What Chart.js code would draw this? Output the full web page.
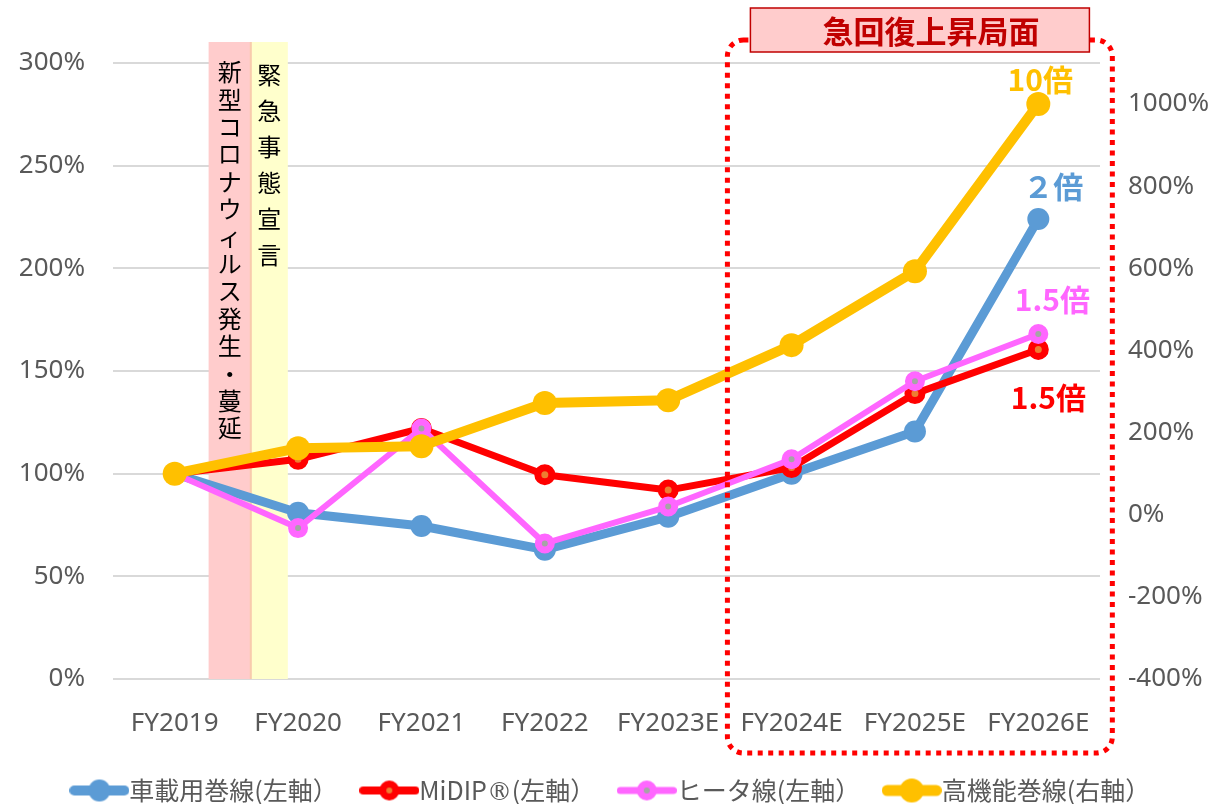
<!DOCTYPE html>
<html>
<head>
<meta charset="utf-8">
<script src="https://cdn.jsdelivr.net/npm/chart.js@4.4.1/dist/chart.umd.min.js"></script>
<style>
  @font-face { font-family: 'RegMark'; src: local('DejaVu Sans'); unicode-range: U+00AE; }
  html, body { margin: 0; background: #fff; }
  #wrap { width: 1216px; height: 804px; position: relative; }
</style>
</head>
<body>
<div id="wrap"><canvas id="chart"></canvas></div>
<script>
// ── データ ──
const fiscalYears = ['FY2019', 'FY2020', 'FY2021', 'FY2022', 'FY2023E', 'FY2024E', 'FY2025E', 'FY2026E'];
const shasaiMakisen = [100, 81, 74.5, 63, 79, 100, 120.5, 224];   // 車載用巻線(左軸)
const midip         = [100, 107, 122, 99.5, 92, 103, 139, 160.5];  // MiDIP®(左軸)
const heaterSen     = [100, 73.5, 122, 66, 84, 107, 145, 168];     // ヒータ線(左軸)
const kokinou       = [100, 162, 167, 272, 279, 413, 593, 1000];   // 高機能巻線(右軸)
const leftTicks  = [0, 300, 50];
const rightTicks = [-400, 1100, 200];

const FONT = "'Noto Sans', 'Noto Sans CJK JP', sans-serif";
const LEG  = "'RegMark', 'Noto Sans CJK JP', sans-serif";
const JP = "'Noto Sans CJK JP', sans-serif";
const GRAY = '#595959';
const C = { blue: '#5B9BD5', red: '#FF0000', pink: '#FF66FF', yellow: '#FFC000' };

// 凡例アイコン（線＋丸）
function legendIcon(color, lw, r, inner) {
  const cv = document.createElement('canvas');
  cv.width = 60; cv.height = 26;
  const g = cv.getContext('2d');
  g.strokeStyle = color; g.lineWidth = lw; g.lineCap = 'round';
  g.beginPath(); g.moveTo(lw / 2, 13); g.lineTo(60 - lw / 2, 13); g.stroke();
  g.fillStyle = color;
  g.beginPath(); g.arc(30, 13, r, 0, Math.PI * 2); g.fill();
  if (inner) { g.fillStyle = inner; g.beginPath(); g.arc(30, 13, 3, 0, Math.PI * 2); g.fill(); }
  return cv;
}
const icons = [
  legendIcon(C.blue, 10, 11),
  legendIcon(C.red, 8, 10, '#ED7D31'),
  legendIcon(C.pink, 7, 10, '#A5A5A5'),
  legendIcon(C.yellow, 11, 12)
];

// ── 背景の帯と縦書きテキスト ──
const bandsPlugin = {
  id: 'bands',
  beforeDatasetsDraw(chart) {
    const { ctx, chartArea: a, scales: { x } } = chart;
    const p0 = x.getPixelForValue(0.275), p1 = x.getPixelForValue(0.617), p2 = x.getPixelForValue(0.917);
    ctx.save();
    ctx.fillStyle = '#FFCCCC'; ctx.fillRect(p0, a.top - 21, p1 - p0, a.bottom - a.top + 21);
    ctx.fillStyle = '#FFFFCC'; ctx.fillRect(p1, a.top - 21, p2 - p1, a.bottom - a.top + 21);
    ctx.fillStyle = '#F8CBAD'; ctx.fillRect(p1 - 1, a.top - 21, 2, a.bottom - a.top + 21);

    ctx.fillStyle = '#000';
    ctx.font = `24px ${JP}`;
    ctx.textAlign = 'center'; ctx.textBaseline = 'middle';
    const t1 = '新型コロナウィルス発生・蔓延';
    [...t1].forEach((ch, i) => ctx.fillText(ch, (p0 + p1) / 2, a.top + 9 + i * 27.4));
    const t2 = '緊急事態宣言';
    [...t2].forEach((ch, i) => ctx.fillText(ch, (p1 + p2) / 2, a.top + 12 + i * 36));
    ctx.restore();
  }
};

// ── 急回復上昇局面の枠と倍率ラベル ──
const overlayPlugin = {
  id: 'overlay',
  afterDraw(chart) {
    const { ctx, chartArea: a, scales: { x, y, y1 } } = chart;
    const L = x.getPixelForValue(4.48), R = x.getPixelForValue(7.6);
    const T = a.top - 23, B = a.bottom + 74;
    ctx.save();
    ctx.strokeStyle = '#FF0000'; ctx.lineWidth = 5; ctx.setLineDash([5, 5.5]);
    ctx.beginPath(); ctx.roundRect(L, T, R - L, B - T, 16); ctx.stroke();
    ctx.setLineDash([]);

    const bx = L + 23, bw = 339, by = a.top - 55, bh = 44;
    ctx.fillStyle = '#FFCCCC'; ctx.fillRect(bx, by, bw, bh);
    ctx.strokeStyle = '#C00000'; ctx.lineWidth = 1.5; ctx.strokeRect(bx, by, bw, bh);
    ctx.fillStyle = '#C00000';
    ctx.font = `bold 31px ${JP}`;
    ctx.textAlign = 'center'; ctx.textBaseline = 'middle';
    ctx.fillText('急回復上昇局面', bx + bw / 2 + 11, by + bh / 2 + 1);

    const last = fiscalYears.length - 1, lx = x.getPixelForValue(last);
    ctx.font = `bold 30px ${JP}`;
    ctx.fillStyle = C.yellow; ctx.fillText('10倍', lx + 2, y1.getPixelForValue(kokinou[last]) - 24);
    ctx.fillStyle = C.blue; ctx.fillText('２倍', lx + 15, y.getPixelForValue(shasaiMakisen[last]) - 32);
    ctx.fillStyle = C.pink; ctx.fillText('1.5倍', lx + 14, y.getPixelForValue(heaterSen[last]) - 34);
    ctx.fillStyle = C.red; ctx.fillText('1.5倍', lx + 10, y.getPixelForValue(midip[last]) + 48);
    ctx.restore();
  }
};

function draw() {
  new Chart(document.getElementById('chart'), {
    type: 'line',
    data: {
      labels: fiscalYears,
      datasets: [
        { label: '車載用巻線(左軸）', data: shasaiMakisen, yAxisID: 'y', order: 3,
          borderColor: C.blue, backgroundColor: C.blue, borderWidth: 9,
          pointRadius: 11, pointBorderWidth: 0, pointBackgroundColor: C.blue },
        { label: 'MiDIP®(左軸）', data: midip, yAxisID: 'y', order: 2,
          borderColor: C.red, backgroundColor: C.red, borderWidth: 7,
          pointRadius: 7, pointBorderWidth: 7, pointBorderColor: C.red, pointBackgroundColor: '#ED7D31' },
        { label: 'ヒータ線(左軸）', data: heaterSen, yAxisID: 'y', order: 1,
          borderColor: C.pink, backgroundColor: C.pink, borderWidth: 6,
          pointRadius: 6.5, pointBorderWidth: 7, pointBorderColor: C.pink, pointBackgroundColor: '#A5A5A5' },
        { label: '高機能巻線(右軸）', data: kokinou, yAxisID: 'y1', order: 0,
          borderColor: C.yellow, backgroundColor: C.yellow, borderWidth: 10,
          pointRadius: 12, pointBorderWidth: 0, pointBackgroundColor: C.yellow }
      ]
    },
    options: {
      responsive: true, maintainAspectRatio: false, animation: false,
      layout: { padding: { top: 63, left: 16, right: 0, bottom: -9 } },
      elements: { line: { tension: 0, borderCapStyle: 'round', borderJoinStyle: 'round' } },
      plugins: {
        tooltip: { enabled: false },
        legend: {
          position: 'bottom',
          labels: {
            usePointStyle: true, pointStyleWidth: 35, boxHeight: 22,
            color: GRAY, font: { family: LEG, size: 25 }, padding: 34,
            sort: (a, b) => a.datasetIndex - b.datasetIndex,
            generateLabels(chart) {
              const items = Chart.defaults.plugins.legend.labels.generateLabels(chart);
              items.forEach(it => { it.pointStyle = icons[it.datasetIndex]; });
              return items;
            }
          }
        }
      },
      scales: {
        x: {
          offset: true,
          grid: { display: false }, border: { display: false },
          afterFit: s => { s.height = 65; },
          ticks: { color: GRAY, font: { family: FONT, size: 26 }, padding: 21, maxRotation: 0, autoSkip: false }
        },
        y: {
          position: 'left', min: leftTicks[0], max: leftTicks[1],
          afterFit: s => { s.width = 97; },
          grid: { color: '#D9D9D9', lineWidth: 2, drawTicks: false }, border: { display: false },
          ticks: { stepSize: leftTicks[2], color: GRAY, font: { family: FONT, size: 26 }, padding: 28,
                   callback: v => v + '%' }
        },
        y1: {
          position: 'right', min: rightTicks[0], max: rightTicks[1],
          afterFit: s => { s.width = 116; },
          grid: { drawOnChartArea: false, drawTicks: false }, border: { display: false },
          ticks: { stepSize: rightTicks[2], includeBounds: false, color: GRAY, font: { family: FONT, size: 26 },
                   padding: 28, callback: v => v + '%' }
        }
      }
    },
    plugins: [bandsPlugin, overlayPlugin]
  });
}

document.fonts.load("25px RegMark", "®").then(draw, draw);
</script>
</body>
</html>
